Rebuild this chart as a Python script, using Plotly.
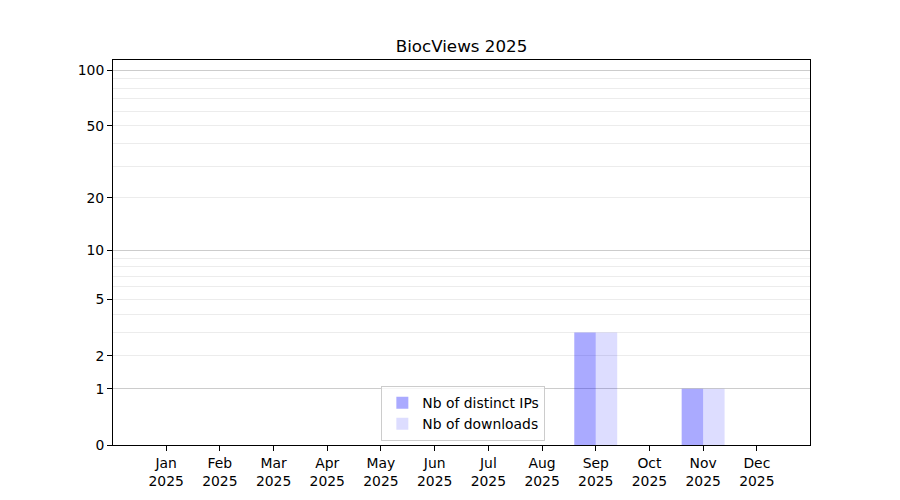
import math
import plotly.graph_objects as go

months = ["Jan", "Feb", "Mar", "Apr", "May", "Jun", "Jul", "Aug", "Sep", "Oct", "Nov", "Dec"]
year = "2025"
month_pos = list(range(1, 13))
distinct_ips = [0, 0, 0, 0, 0, 0, 0, 0, 3, 0, 1, 0]
downloads = [0, 0, 0, 0, 0, 0, 0, 0, 3, 0, 1, 0]

# y axis is a log(1 + value) scale
y_tick_values = [0, 1, 2, 5, 10, 20, 50, 100]
y_minor_values = [3, 4, 6, 7, 8, 9, 30, 40, 60, 70, 80, 90]
y_major_grid_values = [1, 10, 100]
y_top_value = 113.5

font = "DejaVu Sans, Liberation Sans, sans-serif"

fig = go.Figure()
fig.add_trace(go.Bar(
    x=month_pos, y=[v + 1 for v in distinct_ips], name="Nb of distinct IPs",
    marker=dict(color="rgba(0,0,255,0.333)", line=dict(width=0)),
    customdata=distinct_ips, hovertemplate="%{customdata}<extra></extra>",
))
fig.add_trace(go.Bar(
    x=month_pos, y=[v + 1 for v in downloads], name="Nb of downloads",
    marker=dict(color="rgba(0,0,255,0.133)", line=dict(width=0)),
    customdata=downloads, hovertemplate="%{customdata}<extra></extra>",
))
# invisible trace carrying the darker gridlines axis
fig.add_trace(go.Scatter(x=[None], y=[None], yaxis="y2", showlegend=False, hoverinfo="skip"))

yrange = [0, math.log10(y_top_value + 1)]

L, T, W, H = 105, 52, 697, 385

fig.update_layout(
    width=900, height=500,
    margin=dict(l=L, r=900 - L - W, t=T, b=500 - T - H),
    paper_bgcolor="white", plot_bgcolor="white",
    font=dict(family=font, size=13.9, color="black"),
    title=dict(text="BiocViews 2025", x=(L + W / 2) / 900, xanchor="center",
               y=1 - 38 / 500, yanchor="middle", font=dict(size=16.7, family=font, color="black")),
    barmode="group", bargap=0.2, bargroupgap=0,
    showlegend=True,
    legend=dict(x=0.385, y=0.01, xanchor="left", yanchor="bottom",
                bgcolor="rgba(255,255,255,0.8)", bordercolor="#cccccc", borderwidth=1,
                font=dict(size=13.9, family=font), tracegroupgap=0),
    xaxis=dict(
        range=[0.01, 12.99], tickmode="array", tickvals=month_pos,
        ticktext=[f"{m}<br>{year}" for m in months],
        showline=True, linecolor="black", linewidth=1, mirror=True,
        ticks="outside", ticklen=5, tickcolor="black", showgrid=False, zeroline=False,
    ),
    yaxis=dict(
        type="log", range=yrange, tickmode="array",
        tickvals=[v + 1 for v in y_tick_values], ticktext=[str(v) for v in y_tick_values],
        showline=True, linecolor="black", linewidth=1, mirror=True,
        ticks="outside", ticklen=5, tickcolor="black",
        showgrid=True, gridcolor="#ececec", gridwidth=1, zeroline=False,
        minor=dict(tickmode="array", tickvals=[v + 1 for v in y_minor_values],
                   showgrid=True, gridcolor="#ececec", gridwidth=1, ticks="", ticklen=0),
    ),
    yaxis2=dict(
        type="log", range=yrange, overlaying="y", side="left", tickmode="array",
        tickvals=[v + 1 for v in y_major_grid_values], showticklabels=False,
        showgrid=True, gridcolor="#cccccc", gridwidth=1, ticks="", zeroline=False,
        showline=False,
    ),
)

fig.write_html("out.html")
